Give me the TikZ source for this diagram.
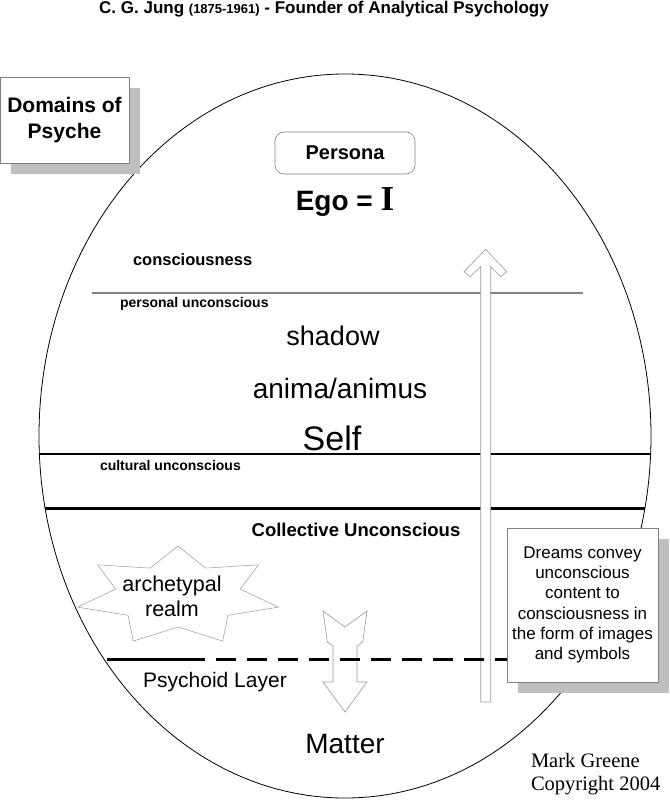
\documentclass[tikz,border=0pt]{standalone}
\usepackage{fontspec}
\setmainfont{Liberation Sans}
\newfontfamily\romanfont{Liberation Serif}
\usetikzlibrary{shadows}
\newcommand{\fsz}[2]{\fontsize{#1}{#2}\selectfont}
\begin{document}
\begin{tikzpicture}[x=1pt, y=-1pt,
  every node/.style = {inner sep=0pt, outer sep=0pt},
  boxed/.style = {draw=black!50, fill=white, line width=0.6pt, align=center,
                  drop shadow={shadow xshift=11pt, shadow yshift=-11pt, fill=black!25, opacity=1}},
  hollow/.style = {draw=black!40, fill=white, line width=0.6pt},
  border/.style = {line width=1.4pt},
  thickborder/.style = {line width=3pt}]

  \useasboundingbox (0,0) rectangle (669,800);

  % the psyche
  \draw[line width=0.8pt] (345,436) ellipse [x radius=306, y radius=362];

  \coordinate (cul-l) at ({345-306*sqrt(1-(18/362)^2)},454);
  \coordinate (cul-r) at ({345+306*sqrt(1-(18/362)^2)},454);
  \coordinate (col-l) at ({345-306*sqrt(1-(72/362)^2)},508);
  \coordinate (col-r) at ({345+306*sqrt(1-(72/362)^2)},508);
  \coordinate (per-l) at (92,293);
  \coordinate (per-r) at (583,293);

  \draw[black!50, line width=1.2pt] (per-l) -- (per-r);
  \draw[border] (cul-l) -- (cul-r);
  \draw[thickborder] (col-l) -- (col-r);

  % arrows
  \draw[hollow] (480.7,702) -- (480.7,266.7) -- (470,276.7) -- (464,271.7) -- (485.7,249.3)
    -- (506.7,271.7) -- (500.7,276.7) -- (490.7,266.7) -- (490.7,702) -- cycle;
  \draw[hollow] (323,611) -- (345,627) -- (367,611) -- (362.7,642) -- (357,646) -- (357,682)
    -- (367,682) -- (345,712) -- (323,682) -- (333,682) -- (333,646) -- (327.3,642) -- cycle;

  % psychoid layer
  \draw[thickborder] (107,659) -- (205,659);
  \draw[thickborder, dash pattern=on 20pt off 11pt] (216,659) -- (510,659);

  % star
  \draw[hollow, line width=0.5pt] plot[samples=14, domain=0:13]
    ({178+(1-0.38*mod(round(\x),2))*103*cos(90-\x*360/14)},
     {596-(1-0.38*mod(round(\x),2))*50*sin(90-\x*360/14)}) -- cycle;

  \node[font=\fsz{17}{20}\bfseries, anchor=base] (title) at (324,14)
    {C. G. Jung {\fsz{13}{15}(1875-1961)} - Founder of Analytical Psychology};

  \node[boxed, minimum width=129pt, minimum height=86pt, font=\fsz{21}{26}\bfseries] (domains)
    at (64.5,120) {Domains of\\Psyche};

  \node[draw=black!50, fill=white, line width=0.6pt, rounded corners=9pt,
        minimum width=140pt, minimum height=42pt, font=\fsz{20}{24}\bfseries] (persona)
    at (345,153) {Persona};
  \node[anchor=base] (ego) at (345,210)
    {\fsz{28}{30}\bfseries Ego = {\romanfont\fsz{35}{36}\bfseries I}};

  \node[anchor=base west, font=\fsz{16.5}{20}\bfseries] (conscious) at (133,265) {consciousness};
  \node[anchor=base west, font=\fsz{14}{16}\bfseries] (personal) at (120,307) {personal unconscious};
  \node[anchor=base, font=\fsz{27}{30}] (shadow) at (333,345) {shadow};
  \node[anchor=base, font=\fsz{28}{30}] (anima) at (340,398) {anima/animus};
  \node[anchor=base, font=\fsz{34}{38}] (self) at (332,450) {Self};
  \node[anchor=base west, font=\fsz{14}{16}\bfseries] (cultural) at (100,470) {cultural unconscious};
  \node[anchor=base, font=\fsz{18.5}{22}\bfseries] (collective) at (356,536) {Collective Unconscious};

  \node[align=center, font=\fsz{21.5}{25}] (archetypal) at (172,596) {archetypal\\realm};
  \node[font=\fsz{21}{24}] (psychoid) at (215,682) {Psychoid Layer};
  \node[anchor=base, font=\fsz{28}{30}] (matter) at (345,753) {Matter};

  \node[boxed, minimum width=151pt, minimum height=154pt, font=\fsz{17}{20.3}] (dreams)
    at (582.5,605) {Dreams convey\\unconscious\\content to\\consciousness in\\the form of images\\and symbols};

  \node[anchor=base west, font=\romanfont\fsz{20.5}{23}] (author) at (531,767) {Mark Greene};
  \node[anchor=base west, font=\romanfont\fsz{20.5}{23}] (copyright) at (531,790) {Copyright 2004};
\end{tikzpicture}
\end{document}
